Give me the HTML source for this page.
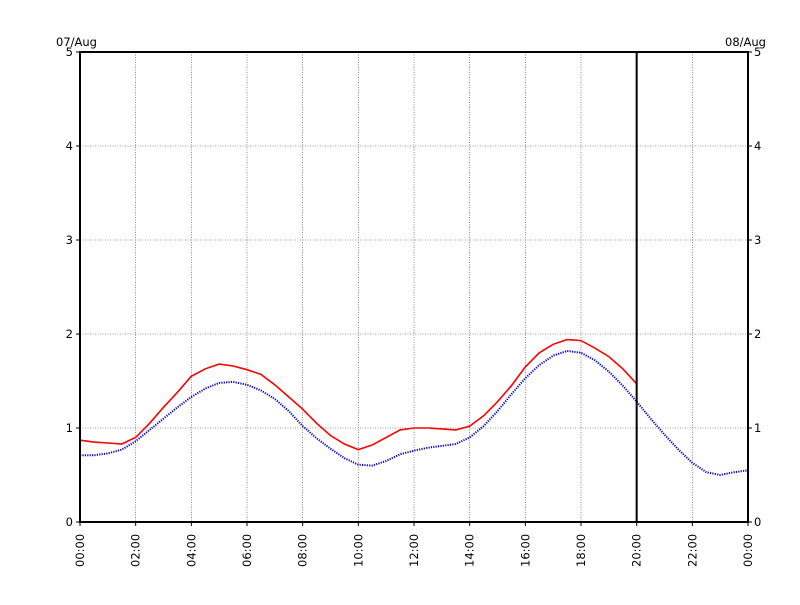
<!DOCTYPE html>
<html><head><meta charset="utf-8"><style>
body{margin:0;background:#fff}
text{font-family:"DejaVu Sans","Liberation Sans",sans-serif;font-size:11.5px;fill:#000}
</style></head><body>
<svg id="chart" width="800" height="600" xmlns="http://www.w3.org/2000/svg"></svg>
<script>
const hours=[0,0.5,1,1.5,2,2.5,3,3.5,4,4.5,5,5.5,6,6.5,7,7.5,8,8.5,9,9.5,10,10.5,11,11.5,12,12.5,13,13.5,14,14.5,15,15.5,16,16.5,17,17.5,18,18.5,19,19.5,20,20.5,21,21.5,22,22.5,23,23.5,24];
const predicted=[0.71,0.71,0.73,0.77,0.86,0.98,1.1,1.22,1.33,1.42,1.48,1.49,1.46,1.40,1.31,1.18,1.02,0.89,0.78,0.68,0.61,0.6,0.65,0.72,0.76,0.79,0.81,0.83,0.9,1.02,1.18,1.36,1.53,1.67,1.77,1.82,1.80,1.72,1.6,1.45,1.28,1.1,0.93,0.77,0.63,0.53,0.5,0.53,0.55];
const observed=[0.87,0.85,0.84,0.83,0.9,1.05,1.22,1.38,1.55,1.63,1.68,1.66,1.62,1.57,1.46,1.33,1.2,1.05,0.92,0.83,0.77,0.82,0.9,0.98,1.0,1.0,0.99,0.98,1.02,1.13,1.28,1.45,1.65,1.8,1.89,1.94,1.93,1.85,1.76,1.63,1.47];
const xTicks=["00:00","02:00","04:00","06:00","08:00","10:00","12:00","14:00","16:00","18:00","20:00","22:00","00:00"];
const yTicks=[0,1,2,3,4,5];
const nowHour=20;
const L=80,R=748,T=52,B=522;
const x=h=>L+(R-L)*h/24, y=v=>B-(B-T)*v/5;
const svg=document.getElementById('chart');
const NS='http://www.w3.org/2000/svg';
function mk(tag,attrs,txt){const e=document.createElementNS(NS,tag);for(const k in attrs)e.setAttribute(k,attrs[k]);if(txt!=null)e.textContent=txt;svg.appendChild(e);return e;}
xTicks.forEach((t,i)=>{const px=x(i*2);
 if(i>0&&i<12){const g=mk('line',{x1:px,x2:px,y1:T,y2:B,stroke:'#444','stroke-width':0.6,'stroke-dasharray':'1 1.5'});
 
 }
 const tk=mk('line',{x1:px,x2:px,y1:B,y2:B+4,stroke:'#000'});
 
 
 const lb=mk('text',{transform:`translate(${px+4},${B+45}) rotate(-90)`},t);
 
 
});
yTicks.forEach(v=>{const py=y(v);
 if(v>0&&v<5){const g=mk('line',{x1:L,x2:R,y1:py,y2:py,stroke:'#444','stroke-width':0.6,'stroke-dasharray':'1 1.5'});
 
 }
 const a=mk('line',{x1:L-4,x2:L,y1:py,y2:py,stroke:'#000'});
 
 
 const b=mk('line',{x1:R,x2:R+4,y1:py,y2:py,stroke:'#000'});
 
 
 const l1=mk('text',{x:L-7,y:py+4,'text-anchor':'end'},v);
 
 
 const l2=mk('text',{x:R+6,y:py+4},v);
 
 
});
const pts=(arr)=>arr.map((v,i)=>x(hours[i]).toFixed(1)+','+y(v).toFixed(1)).join(' ');
const pl=mk('polyline',{points:pts(predicted),fill:'none',stroke:'#0000dd','stroke-width':2,'stroke-dasharray':'1.2 1.2'});


const ol=mk('polyline',{points:pts(observed),fill:'none',stroke:'#ff0000','stroke-width':1.6});


const nl=mk('line',{x1:x(nowHour),x2:x(nowHour),y1:T,y2:B,stroke:'#000','stroke-width':2});


const fr=mk('rect',{x:L,y:T,width:R-L,height:B-T,fill:'none',stroke:'#000','stroke-width':2});


const d1=mk('text',{x:56,y:46},'07/Aug');


const d2=mk('text',{x:725,y:46},'08/Aug');


</script>
</body></html>
